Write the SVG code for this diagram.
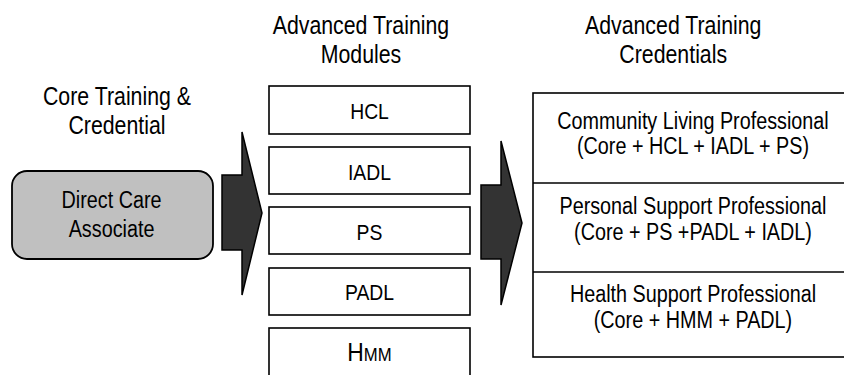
<svg xmlns="http://www.w3.org/2000/svg" width="844" height="375" viewBox="0 0 844 375">
<style>
text{font-family:"Liberation Sans",Arial,sans-serif;fill:#000;text-anchor:middle}
.h{font-size:26px}
.t{font-size:23px}
.m{font-size:22px}
.box{fill:#fff;stroke:#000;stroke-width:1.6}
.arrow{fill:#333;stroke:#000;stroke-width:1.5;stroke-linejoin:miter}
</style>
<rect width="844" height="375" fill="#fff"/>
<g id="header-core"><text class="h" transform="scale(0.82,1)" x="142.7" y="105">Core Training &amp;</text><text class="h" transform="scale(0.82,1)" x="142.7" y="134">Credential</text></g>
<g id="header-modules"><text class="h" transform="scale(0.82,1)" x="440.2" y="34">Advanced Training</text><text class="h" transform="scale(0.82,1)" x="440.2" y="63">Modules</text></g>
<g id="header-credentials"><text class="h" transform="scale(0.82,1)" x="821" y="34">Advanced Training</text><text class="h" transform="scale(0.82,1)" x="821" y="63">Credentials</text></g>
<g id="connectors">
<polygon class="arrow" points="222,175 242,175 242,132 262,213 242,295 242,250 222,250"/>
<polygon class="arrow" points="481,185 501,185 501,141 522,223 501,305 501,259 481,259"/>
</g>
<g id="dca"><rect x="12" y="171" width="201" height="88" rx="15" ry="15" fill="#c0c0c0" stroke="#000" stroke-width="1.8"/><text class="t" transform="scale(0.86,1)" x="129.7" y="208">Direct Care</text><text class="t" transform="scale(0.86,1)" x="129.7" y="237">Associate</text></g>
<g id="hcl"><rect class="box" x="269" y="86" width="201" height="48"/><text class="m" transform="scale(0.88,1)" x="419.9" y="119">HCL</text></g>
<g id="iadl"><rect class="box" x="269" y="147" width="201" height="47"/><text class="m" transform="scale(0.88,1)" x="419.9" y="180">IADL</text></g>
<g id="ps"><rect class="box" x="269" y="207" width="201" height="47"/><text class="m" transform="scale(0.88,1)" x="419.9" y="240">PS</text></g>
<g id="padl"><rect class="box" x="269" y="268" width="201" height="47"/><text class="m" transform="scale(0.88,1)" x="419.9" y="300">PADL</text></g>
<g id="hmm"><rect class="box" x="269" y="328" width="201" height="60"/><text transform="scale(0.88,1)" x="419.9" y="361"><tspan style="font-size:26px">H</tspan><tspan style="font-size:19px">MM</tspan></text></g>
<g id="credentials">
<rect class="box" x="533" y="93" width="320" height="264"/>
<line x1="533" y1="183" x2="853" y2="183" stroke="#000" stroke-width="1.6"/>
<line x1="533" y1="272" x2="853" y2="272" stroke="#000" stroke-width="1.6"/>
</g>
<g id="clp"><text class="t" transform="scale(0.86,1)" x="805.8" y="129">Community Living Professional</text><text class="t" transform="scale(0.86,1)" x="805.8" y="154">(Core + HCL + IADL + PS)</text></g>
<g id="psp"><text class="t" transform="scale(0.86,1)" x="805.8" y="214">Personal Support Professional</text><text class="t" transform="scale(0.86,1)" x="805.8" y="240">(Core + PS +PADL + IADL)</text></g>
<g id="hsp"><text class="t" transform="scale(0.86,1)" x="805.8" y="302">Health Support Professional</text><text class="t" transform="scale(0.86,1)" x="805.8" y="328">(Core + HMM + PADL)</text></g>
</svg>
